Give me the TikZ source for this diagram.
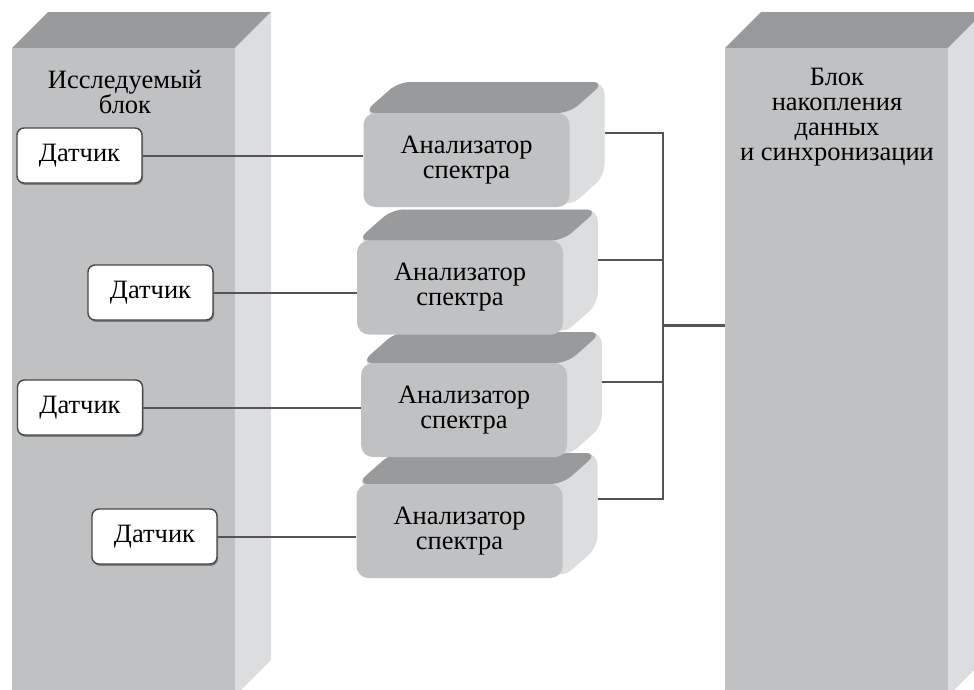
\documentclass[tikz,border=0pt]{standalone}
\usepackage{fontspec}
\setmainfont{Liberation Serif}
\usetikzlibrary{shadows}

\definecolor{frontgray}{HTML}{C0C1C3}
\definecolor{topgray}{HTML}{999A9C}
\definecolor{sidegray}{HTML}{DCDDDF}
\definecolor{wiregray}{HTML}{555555}

\tikzset{
  bigtext/.style={font=\fontsize{26.5}{25}\selectfont},
  pillarface/.style={rectangle, fill=frontgray, draw=none, inner sep=0pt},
  pillarname/.style={bigtext, align=center, inner sep=0pt},
  sensor/.style={rectangle, rounded corners=7pt, fill=white, draw=black!72,
    line width=1.4pt, minimum width=125pt, minimum height=55pt, inner sep=0pt,
    bigtext, drop shadow={shadow xshift=1pt, shadow yshift=-1.8pt,
      fill=black, opacity=0.35}},
  specfront/.style={rectangle, rounded corners=12pt, fill=frontgray, draw=none,
    minimum width=206pt, minimum height=94pt, inner sep=0pt, bigtext, align=center},
  wire/.style={draw=wiregray, line width=2pt},
  mainwire/.style={draw=wiregray, line width=3pt},
}

% spectrum analyser block: name, centre x, centre y, output offset, text
\newcommand\specbox[5]{%
  \begin{scope}[shift={(#2,#3)}]
    \fill[sidegray, rounded corners=12pt]
      (-103,-47) -- (-68,-78) -- (138,-78) -- (138,16) -- (103,47) -- cycle;
    \fill[topgray, rounded corners=12pt]
      (-103,-47) -- (-68,-78) -- (138,-78) -- (103,-47) -- cycle;
    \node[specfront] (#1) at (0,0) {#5};
    \coordinate (#1out) at (138,#4);
  \end{scope}%
}

\begin{document}
\begin{tikzpicture}[x=1pt,y=-1pt]
\useasboundingbox (0,0) rectangle (974,689);
\clip (0,0) rectangle (974,689);

% object under test
\fill[topgray] (12,48) -- (48,12) -- (271,12) -- (235,48) -- cycle;
\fill[sidegray] (235,48) -- (271,12) -- (271,660) -- (235,696) -- cycle;
\node[pillarface, minimum width=223pt, minimum height=652pt] (dut) at (123.5,374) {};
\node[pillarname] (dutname) at (125,92) {Исследуемый\\блок};

% data acquisition and synchronisation unit
\fill[topgray] (725,48) -- (761,12) -- (984,12) -- (948,48) -- cycle;
\fill[sidegray] (948,48) -- (984,12) -- (984,660) -- (948,696) -- cycle;
\node[pillarface, minimum width=223pt, minimum height=652pt] (store) at (836.5,374) {};
\node[pillarname] (storename) at (837,117) {Блок\\накопления\\данных\\и синхронизации};

% sensors
\node[sensor] (s1) at (79.5,155.5) {Датчик};
\node[sensor] (s2) at (150.5,292.5) {Датчик};
\node[sensor] (s3) at (80,407.5) {Датчик};
\node[sensor] (s4) at (154.5,536.5) {Датчик};

% spectrum analysers, lowest first so the upper ones overlap
\specbox{a4}{459.5}{531}{-32}{Анализатор\\спектра}
\specbox{a3}{464}{410}{-28}{Анализатор\\спектра}
\specbox{a2}{460}{287.5}{-27.5}{Анализатор\\спектра}
\specbox{a1}{466.5}{160}{-27}{Анализатор\\спектра}

% sensor to analyser links
\draw[wire] (s1.east) -- (s1.east -| a1.west);
\draw[wire] (s2.east) -- (s2.east -| a2.west);
\draw[wire] (s3.east) -- (s3.east -| a3.west);
\draw[wire] (s4.east) -- (s4.east -| a4.west);

% common bus to the acquisition unit
\coordinate (bus) at (663,325);
\draw[wire] (a1out) -| (bus);
\draw[wire] (a2out) -| (bus);
\draw[wire] (a3out) -| (bus);
\draw[wire] (a4out) -| (bus);
\draw[mainwire] (bus) -- (bus -| store.west);
\end{tikzpicture}
\end{document}
